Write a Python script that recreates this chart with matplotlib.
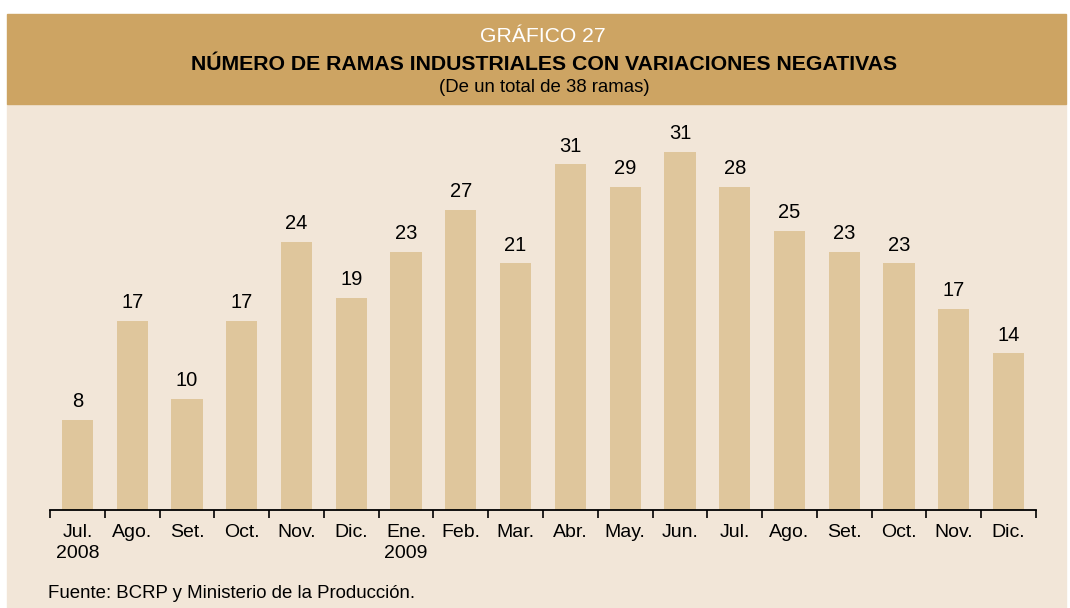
import numpy as np
import matplotlib.pyplot as plt
from matplotlib.patches import Rectangle

months = ['Jul.\n2008', 'Ago.', 'Set.', 'Oct.', 'Nov.', 'Dic.', 'Ene.\n2009', 'Feb.', 'Mar.',
          'Abr.', 'May.', 'Jun.', 'Jul.', 'Ago.', 'Set.', 'Oct.', 'Nov.', 'Dic.']
# bar heights as drawn in the chart
heights = [8.1, 17.0, 10.0, 17.0, 24.1, 19.1, 23.2, 27.0, 22.2,
           31.1, 29.1, 32.2, 29.1, 25.1, 23.2, 22.2, 18.1, 14.1]
# numbers printed above the bars
shown = [8, 17, 10, 17, 24, 19, 23, 27, 21, 31, 29, 31, 28, 25, 23, 23, 17, 14]

header_col = '#CDA463'
bg_col = '#F2E6D8'
bar_col = '#DFC69C'
plt.rcParams['font.family'] = ['Liberation Sans', 'DejaVu Sans']

W, H = 1070, 608
fig = plt.figure(figsize=(W / 100, H / 100), dpi=100)
fig.patch.set_facecolor('white')

# background panels
fig.add_artist(Rectangle((7 / W, 0), (1066 - 7) / W, (H - 104) / H,
                         transform=fig.transFigure, color=bg_col, zorder=0))
fig.add_artist(Rectangle((7 / W, (H - 104) / H), (1066 - 7) / W, 90 / H,
                         transform=fig.transFigure, color=header_col, zorder=0))

fig.text(543 / W, 1 - 36 / H, 'GRÁFICO 27', color='white', fontsize=15.2,
         ha='center', va='center')
fig.text(544 / W, 1 - 64 / H, 'NÚMERO DE RAMAS INDUSTRIALES CON VARIACIONES NEGATIVAS',
         color='black', fontsize=15.3, fontweight='bold', ha='center', va='center')
fig.text(544 / W, 1 - 88 / H, '(De un total de 38 ramas)', color='black',
         fontsize=13.4, ha='center', va='center')

ax_l, ax_r = 50, 1036
ax_b, ax_t = 510, 121
ax = fig.add_axes([ax_l / W, 1 - ax_b / H, (ax_r - ax_l) / W, (ax_b - ax_t) / H])
ax.set_facecolor('none')

x = np.arange(len(months))
ax.bar(x, heights, width=0.57, color=bar_col, zorder=2)
for xi, h, s in zip(x, heights, shown):
    ax.text(xi, h + 0.78, str(s), ha='center', va='bottom', fontsize=14.5)

ax.set_xlim(-0.5, len(months) - 0.5)
ax.set_ylim(0, 35)
ax.set_yticks([])
for sp in ['top', 'right', 'left']:
    ax.spines[sp].set_visible(False)
ax.spines['bottom'].set_linewidth(1.3)

ax.set_xticks(np.arange(-0.5, len(months)), minor=True)
ax.set_xticks(x)
ax.set_xticklabels(months, fontsize=14, linespacing=1.3)
ax.tick_params(axis='x', which='major', length=0, pad=10)
ax.tick_params(axis='x', which='minor', length=6, width=1.2, direction='out')

fig.text(48 / W, 1 - 594 / H, 'Fuente: BCRP y Ministerio de la Producción.',
         fontsize=13.4, ha='left', va='center')

fig.savefig('out.png', dpi=100)
